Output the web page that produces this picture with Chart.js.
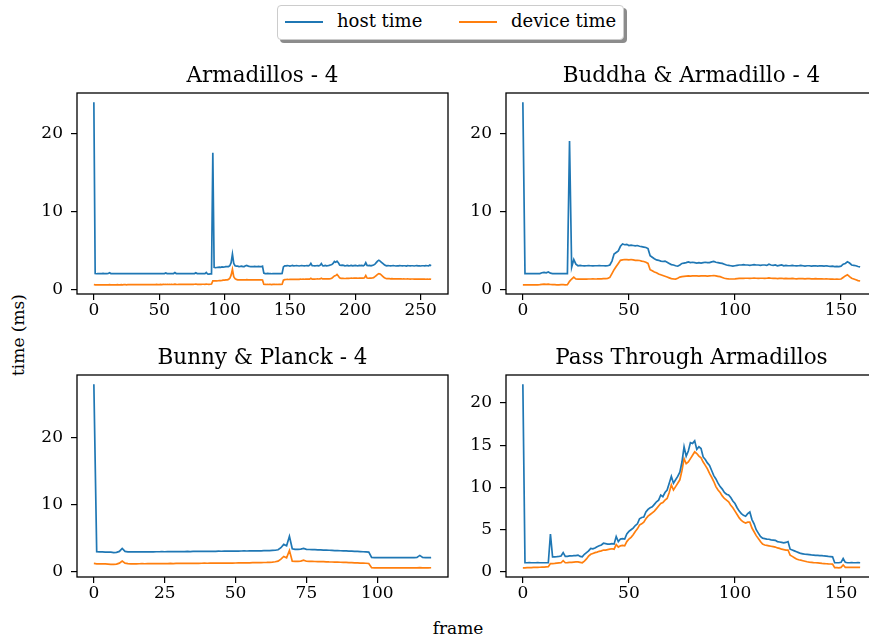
<!DOCTYPE html>
<html>
<head>
<meta charset="utf-8">
<script src="https://cdn.jsdelivr.net/npm/chart.js@4.4.0/dist/chart.umd.min.js"></script>
<style>
  html, body { margin: 0; padding: 0; background: #fff; }
  body { width: 869px; height: 641px; overflow: hidden; position: relative; font-family: 'DejaVu Serif', serif; color: #000; }
  canvas { position: absolute; }
  .legend { position: absolute; left: 277px; top: 5px; width: 347px; height: 35px; box-sizing: border-box;
            border: 1px solid #cccccc; border-radius: 4px; background: #fff; box-shadow: 3px 3px 0 #8c8c8c; font-size: 18px; }
  .legend .swatch { position: absolute; top: 15px; width: 38px; height: 1.7px; }
  .legend .txt { position: absolute; top: 4px; line-height: 22px; white-space: nowrap; }
  .ylab { position: absolute; left: 18px; top: 335px; font-size: 17px; white-space: nowrap; transform: translate(-50%, -50%) rotate(-90deg); }
  .xlab { position: absolute; left: 458px; top: 628px; font-size: 17px; white-space: nowrap; transform: translate(-50%, -50%); }
</style>
</head>
<body>
<div class="legend">
  <div class="swatch" style="left:7px;background:#1f77b4"></div>
  <div class="txt" style="left:59px">host time</div>
  <div class="swatch" style="left:181px;background:#ff7f0e"></div>
  <div class="txt" style="left:233px">device time</div>
</div>
<div class="ylab">time (ms)</div>
<div class="xlab">frame</div>
<canvas id="armadillos"></canvas>
<canvas id="buddha"></canvas>
<canvas id="bunny"></canvas>
<canvas id="passthrough"></canvas>
<script>
// panel 1: Armadillos - 4 (frames 0..258)
const armHost = [24.0,
  2.0,1.98,2.0,2.01,1.99,2.0,2.02,2.0,1.99,2.0,
  2.01,2.1,2.0,1.99,2.0,2.0,2.01,1.99,2.0,2.0,
  1.99,2.0,2.01,2.0,2.0,1.99,2.0,2.0,2.01,2.0,
  2.0,1.99,2.0,2.0,2.01,2.0,1.99,2.0,2.0,2.0,
  2.01,2.0,1.99,2.0,2.0,2.0,2.01,2.0,1.99,2.0,
  2.0,2.01,2.0,2.0,2.08,2.0,1.99,2.0,2.0,2.01,
  2.0,2.12,2.0,1.99,2.0,2.0,2.01,2.0,2.0,1.99,
  2.0,2.0,2.01,2.0,2.0,1.99,2.0,2.1,2.0,2.0,
  1.99,2.0,2.0,2.01,2.0,2.15,1.95,1.94,1.95,
  1.95, 17.5,
  2.8,2.75,2.78,2.8,2.82,2.8,2.85,2.83,2.85,2.88,2.9,2.9,3.0,3.4,
  4.5, 3.3,
  3.0,2.95,2.95,2.9,2.92,2.95,2.9,2.9,3.0,3.05,2.95,2.92,2.9,2.88,2.9,2.92,2.9,2.9,2.92,2.9,2.88,2.95,
  2.05,2.0,2.0,2.02,2.0,2.0,1.98,2.0,2.0,2.01,2.0,2.0,1.99,2.0,2.02,
  2.85,
  3.0,2.98,3.02,3.0,2.95,3.0,3.05,2.98,3.0,3.02,
  3.0,2.97,3.0,3.03,3.0,2.98,3.0,3.02,3.0,3.05,
  3.3,3.02,3.0,2.98,3.0,3.02,3.0,3.05,3.28,3.02,
  3.0,3.05,3.0,3.02,3.05,3.1,3.15,3.3,3.55,3.45,
  3.6,3.4,3.1,3.05,3.08,3.05,3.0,3.02,3.05,3.0,
  3.02,3.05,3.0,3.03,3.05,3.02,3.0,3.05,3.02,3.05,
  3.0,3.08,3.4,3.05,3.02,3.05,3.0,3.05,3.1,3.2,
  3.4,3.6,3.7,3.6,3.45,3.3,3.15,3.05,3.0,3.02,
  3.0,2.98,3.0,3.02,3.0,2.97,3.0,2.98,3.02,3.0,
  2.98,3.0,3.0,2.97,3.02,3.0,2.98,3.0,3.0,2.97,
  3.0,3.02,2.98,3.0,2.97,3.0,3.0,2.98,3.02,3.0,
  2.98,3.1,3.0];
const armDevice = [0.6,
  0.55,0.55,0.56,0.55,0.55,0.56,0.55,0.56,0.56,0.55,
  0.56,0.57,0.56,0.56,0.55,0.56,0.56,0.57,0.56,0.56,
  0.57,0.56,0.57,0.57,0.56,0.57,0.57,0.58,0.57,0.57,
  0.58,0.57,0.58,0.58,0.57,0.58,0.58,0.59,0.58,0.58,
  0.59,0.58,0.59,0.59,0.58,0.59,0.59,0.6,0.59,0.59,
  0.6,0.59,0.6,0.6,0.62,0.6,0.6,0.61,0.6,0.6,
  0.61,0.65,0.61,0.6,0.61,0.61,0.62,0.61,0.61,0.62,
  0.61,0.62,0.62,0.61,0.62,0.62,0.63,0.66,0.62,0.62,
  0.63,0.62,0.63,0.63,0.62,0.66,0.63,0.62,0.63,
  0.65, 1.05,
  1.05,1.06,1.05,1.08,1.1,1.1,1.12,1.15,1.15,1.18,1.2,1.25,1.4,1.8,
  2.55, 1.6,
  1.35,1.25,1.2,1.2,1.18,1.2,1.2,1.18,1.2,1.22,1.2,1.2,1.18,1.2,1.2,1.18,1.2,1.2,1.18,1.2,1.2,1.18,
  0.62,0.6,0.6,0.61,0.6,0.6,0.59,0.6,0.6,0.6,0.61,0.6,0.6,0.6,0.62,
  1.15,
  1.22,1.24,1.25,1.24,1.25,1.26,1.25,1.26,1.27,1.26,
  1.27,1.26,1.28,1.27,1.28,1.27,1.28,1.29,1.28,1.29,
  1.4,1.29,1.3,1.29,1.3,1.31,1.3,1.31,1.4,1.31,
  1.32,1.31,1.33,1.32,1.33,1.35,1.4,1.55,1.7,1.75,
  1.9,1.7,1.45,1.38,1.4,1.38,1.37,1.38,1.4,1.38,
  1.4,1.42,1.4,1.42,1.41,1.42,1.4,1.42,1.41,1.43,
  1.42,1.45,1.75,1.42,1.4,1.42,1.41,1.43,1.48,1.6,
  1.75,1.9,2.0,1.95,1.8,1.65,1.5,1.4,1.36,1.35,
  1.34,1.33,1.34,1.33,1.32,1.33,1.32,1.31,1.32,1.31,
  1.3,1.31,1.3,1.3,1.31,1.3,1.29,1.3,1.3,1.29,
  1.3,1.29,1.28,1.29,1.28,1.28,1.29,1.28,1.27,1.28,
  1.27,1.3,1.27];

// panel 2: Buddha & Armadillo - 4 (frames 0..159)
const budHost = [24.0,
  2.0,2.0,1.98,2.0,2.0,2.01,2.0,2.0,2.1,2.15,2.1,2.2,2.05,2.0,2.0,1.99,2.0,2.0,2.0,2.0,
  2.0, 19.0, 2.8, 3.8,
  3.2,3.0,3.05,3.0,2.98,3.0,3.02,3.0,2.98,3.0,3.0,3.02,3.0,3.0,2.98,3.0,3.1,
  3.6,4.5,4.7,4.9,5.5,5.8,
  5.7,5.75,5.6,5.65,5.6,5.55,5.6,5.5,5.45,5.4,5.35,
  5.2, 4.3,
  4.1,3.9,3.75,3.7,3.6,3.55,3.6,3.45,3.3,3.15,3.1,3.0,2.95,3.1,3.3,
  3.35,3.4,3.5,3.4,3.45,3.4,3.35,3.4,3.35,3.4,3.45,3.4,3.4,3.5,3.55,3.45,3.4,3.35,3.3,3.2,
  3.1,3.05,3.0,2.95,3.0,3.05,3.1,3.1,3.15,3.1,
  3.1,3.05,3.1,3.15,3.1,3.1,3.05,3.1,3.1,3.05,3.2,3.1,3.05,3.1,3.0,3.05,3.1,3.0,3.05,3.0,
  3.0,3.05,3.0,2.98,3.0,3.05,3.0,2.95,3.0,3.0,2.95,2.98,3.0,2.95,3.0,2.98,2.95,3.0,2.95,2.92,2.95,2.9,2.92,2.9,2.95,
  3.2,3.3,3.5,3.35,3.1,3.05,3.0,2.9,2.85];
const budDevice = [0.55,
  0.55,0.55,0.56,0.55,0.55,0.56,0.56,0.58,0.62,0.65,0.62,0.64,0.6,0.58,0.57,0.56,0.56,0.57,0.57,0.56,
  0.58, 1.0, 1.3, 1.55,
  1.3,1.28,1.3,1.28,1.3,1.29,1.3,1.3,1.32,1.3,1.31,1.33,1.32,1.34,1.35,1.38,1.5,
  2.0,2.5,2.9,3.3,3.7,3.75,
  3.8,3.78,3.75,3.8,3.75,3.7,3.7,3.68,3.6,3.55,3.45,
  3.3, 2.5,
  2.35,2.2,2.1,1.95,1.85,1.75,1.65,1.55,1.45,1.35,1.32,1.3,1.4,1.55,1.6,
  1.65,1.68,1.7,1.68,1.7,1.72,1.7,1.68,1.7,1.72,1.7,1.68,1.7,1.72,1.75,1.7,1.65,1.6,1.5,1.4,
  1.35,1.32,1.3,1.3,1.32,1.35,1.38,1.4,1.38,1.4,
  1.4,1.38,1.4,1.42,1.4,1.38,1.4,1.4,1.38,1.4,1.45,1.4,1.38,1.4,1.35,1.38,1.4,1.36,1.38,1.35,
  1.35,1.38,1.35,1.33,1.35,1.36,1.35,1.32,1.35,1.34,1.32,1.33,1.35,1.32,1.33,1.32,1.3,1.32,1.3,1.28,1.3,1.27,1.28,1.27,1.3,
  1.5,1.7,1.85,1.6,1.4,1.3,1.2,1.1,1.05];

// panel 3: Bunny & Planck - 4 (frames 0..119)
const bunHost = [28.0,
  3.0,2.98,2.97,2.95,2.96,2.95,2.88,2.9,3.05,
  3.5,
  3.05,2.98,2.97,2.98,2.97,2.98,2.99,2.98,2.99,3.0,
  2.99,3.0,3.0,3.01,3.0,3.02,3.01,3.02,3.02,3.03,3.02,3.03,3.04,3.03,3.04,3.05,3.04,3.05,3.05,3.06,
  3.06,3.07,3.06,3.08,3.07,3.08,3.09,3.08,3.1,3.09,3.1,3.11,3.12,3.11,3.12,3.13,3.14,3.15,3.14,3.16,3.17,3.18,3.2,3.22,
  3.3,3.6,4.1,3.9,5.3,3.45,3.35,
  3.35,3.4,3.5,3.35,3.33,3.3,3.3,3.28,3.27,3.25,3.24,3.22,3.2,3.18,3.17,3.15,3.13,3.12,3.1,3.08,3.06,3.04,3.02,3.0,2.97,2.94,
  2.15,2.12,2.12,2.13,2.12,2.12,2.13,2.12,2.12,2.12,2.13,2.12,2.12,2.12,2.13,2.12,2.15,2.45,2.15,2.12,2.12,2.13];
const bunDevice = [1.25,
  1.2,1.2,1.19,1.18,1.15,1.12,1.1,1.15,1.3,
  1.6,
  1.3,1.22,1.2,1.21,1.2,1.21,1.22,1.21,1.22,1.22,
  1.23,1.22,1.23,1.24,1.23,1.24,1.25,1.24,1.25,1.26,1.25,1.26,1.27,1.26,1.27,1.28,1.27,1.28,1.29,1.28,
  1.29,1.3,1.29,1.3,1.31,1.3,1.31,1.32,1.31,1.32,1.33,1.34,1.33,1.34,1.35,1.36,1.37,1.38,1.37,1.39,1.4,1.42,1.45,1.5,
  1.6,1.9,2.3,2.1,3.2,1.6,1.55,
  1.55,1.6,1.75,1.58,1.56,1.55,1.54,1.53,1.52,1.51,1.5,1.48,1.47,1.46,1.45,1.43,1.42,1.4,1.38,1.37,1.35,1.33,1.31,1.3,1.28,1.25,
  0.62,0.6,0.6,0.61,0.6,0.6,0.6,0.61,0.6,0.6,0.6,0.61,0.6,0.6,0.6,0.61,0.6,0.62,0.6,0.6,0.6,0.61];

// panel 4: Pass Through Armadillos (frames 0..159)
const passHost = [22.2,
  1.1,1.1,1.12,1.1,1.1,1.1,1.12,1.1,1.1,1.1,1.1,1.1,
  4.5,
  1.8,1.8,1.82,1.85,
  1.9,2.3,1.85,
  1.85,1.9,1.9,1.95,1.95,2.0,1.85,1.8,
  2.1,2.3,2.5,2.8,2.75,2.85,3.0,
  3.1,3.2,3.4,3.35,3.3,3.3,3.35,3.3,
  4.2,
  3.6,3.9,3.95,3.9,
  4.5,4.8,5.0,5.2,5.5,5.7,6.3,
  6.45,6.5,7.1,7.4,
  7.6,7.7,8.0,8.3,8.5,9.1,8.9,9.4,9.7,10.5,
  11.3,10.5,10.9,11.3,11.8,13.0,14.8,13.7,14.3,15.3,
  15.2,15.5,14.5,14.8,14.6,13.6,13.3,12.9,12.6,12.0,
  11.4,11.0,10.5,10.1,9.8,9.4,9.2,9.1,8.8,8.4,
  8.1,7.6,7.2,6.9,6.7,6.6,6.9,7.1,6.2,5.7,
  5.0,4.6,4.2,4.0,3.95,3.9,3.88,3.8,3.78,3.75,
  3.6,3.55,3.5,3.45,3.5,3.6,2.7,2.6,2.5,2.4,
  2.3,2.2,2.15,2.1,2.08,2.05,2.02,2.0,1.98,1.97,
  1.95,1.93,1.9,1.88,1.85,1.83,1.8,1.1,1.1,1.1,
  1.15,1.6,1.15,1.1,1.1,1.12,1.1,1.1,1.12,1.1];
const passDevice = [0.5,
  0.5,0.52,0.52,0.53,0.55,0.55,0.56,0.57,0.58,0.58,0.6,0.62,
  1.0,
  1.0,1.02,1.05,1.08,
  1.1,1.35,1.1,
  1.12,1.15,1.15,1.18,1.2,1.2,1.15,1.1,
  1.3,1.55,1.9,2.1,2.2,2.3,2.35,
  2.45,2.5,2.6,2.6,2.65,2.7,2.75,2.7,
  3.25,
  2.95,3.1,3.15,3.1,
  3.6,3.9,4.1,4.4,4.8,5.1,5.55,
  5.7,5.9,6.3,6.6,
  6.8,7.0,7.2,7.5,7.8,8.1,8.2,8.5,8.7,9.4,
  10.3,9.7,10.1,10.5,10.9,12.0,13.4,12.8,13.0,13.4,
  13.8,14.2,14.0,13.7,13.5,13.0,12.6,12.2,11.65,11.2,
  10.7,10.1,9.7,9.4,9.0,8.7,8.5,8.3,7.9,7.6,
  7.2,6.8,6.4,6.1,5.9,5.8,5.9,5.9,5.2,4.76,
  4.3,3.97,3.6,3.3,3.2,3.15,3.1,3.05,3.0,2.95,
  2.85,2.8,2.7,2.65,2.6,2.6,2.0,1.85,1.7,1.55,
  1.45,1.4,1.34,1.28,1.22,1.18,1.15,1.12,1.1,1.08,
  1.05,1.02,1.0,0.98,0.96,0.95,0.94,0.52,0.52,0.5,
  0.55,0.83,0.55,0.55,0.55,0.56,0.55,0.55,0.56,0.55];

// tick labels
const ticksArmX = [0, 50, 100, 150, 200, 250];
const ticks150X = [0, 50, 100, 150];
const ticksBunX = [0, 25, 50, 75, 100];
const ticks20Y = [0, 10, 20];
const ticksPassY = [0, 5, 10, 15, 20];

// layout (px): title block, y axis width, x axis height
const TITLE_H = 29, YAXIS_W = 50, XAXIS_H = 34, PAD_R = 2;
const tickFont = { family: 'DejaVu Serif', size: 17 };

const frameBox = {
  id: 'frameBox',
  afterDatasetsDraw(chart) {
    const a = chart.chartArea, c = chart.ctx;
    c.save();
    c.strokeStyle = '#000';
    c.lineWidth = 1.3;
    c.strokeRect(a.left, a.top, a.right - a.left, a.bottom - a.top);
    c.restore();
  }
};

function axisStyle() {
  return {
    grid: { display: true, drawOnChartArea: false, drawTicks: true, tickLength: 6, color: '#000', lineWidth: 1.2 },
    border: { display: false },
  };
}

function makePanel(id, title, host, device, xTicks, yTicks, left, top, w, h) {
  const n = host.length - 1;
  const all = host.concat(device);
  const lo = Math.min(...all), hi = Math.max(...all);
  const pad = (hi - lo) * 0.05;

  const canvas = document.getElementById(id);
  canvas.width = YAXIS_W + w + PAD_R;
  canvas.height = TITLE_H + h + XAXIS_H;
  canvas.style.left = (left - YAXIS_W) + 'px';
  canvas.style.top = (top - TITLE_H) + 'px';

  const data = {
    labels: host.map((_, i) => i),
    datasets: [
      { label: 'host time', data: host, borderColor: '#1f77b4', borderWidth: 1.7, pointRadius: 0, tension: 0, fill: false },
      { label: 'device time', data: device, borderColor: '#ff7f0e', borderWidth: 1.7, pointRadius: 0, tension: 0, fill: false },
    ],
  };

  const config = {
    type: 'line',
    data: data,
    options: {
      responsive: false,
      maintainAspectRatio: false,
      animation: false,
      devicePixelRatio: 1,
      layout: { padding: { left: 0, top: 0, bottom: 0, right: PAD_R } },
      plugins: {
        legend: { display: false },
        tooltip: { enabled: false },
        title: {
          display: true, text: title, color: '#000', fullSize: false,
          font: { family: 'DejaVu Serif', size: 21.5, weight: 'normal', lineHeight: '24px' },
          padding: { top: 0, bottom: 5 },
        },
      },
      scales: {
        x: {
          type: 'linear', min: -0.05 * n, max: 1.05 * n,
          afterFit: (s) => { s.height = XAXIS_H; },
          afterBuildTicks: (s) => { s.ticks = xTicks.map((v) => ({ value: v })); },
          ticks: { color: '#000', font: tickFont, padding: 0, maxRotation: 0, autoSkip: false, callback: (v) => String(v) },
          ...axisStyle(),
        },
        y: {
          type: 'linear', min: lo - pad, max: hi + pad,
          afterFit: (s) => { s.width = YAXIS_W; },
          afterBuildTicks: (s) => { s.ticks = yTicks.map((v) => ({ value: v })); },
          ticks: { color: '#000', font: tickFont, padding: 8, autoSkip: false, callback: (v) => String(v) },
          ...axisStyle(),
        },
      },
    },
    plugins: [frameBox],
  };

  return new Chart(canvas.getContext('2d'), config);
}

const chart1 = makePanel('armadillos', 'Armadillos - 4', armHost, armDevice, ticksArmX, ticks20Y, 77, 93, 371, 201);
const chart2 = makePanel('buddha', 'Buddha & Armadillo - 4', budHost, budDevice, ticks150X, ticks20Y, 506, 93, 371, 201);
const chart3 = makePanel('bunny', 'Bunny & Planck - 4', bunHost, bunDevice, ticksBunX, ticks20Y, 77, 375, 371, 202);
const chart4 = makePanel('passthrough', 'Pass Through Armadillos', passHost, passDevice, ticks150X, ticksPassY, 506, 375, 371, 202);
</script>
</body>
</html>
